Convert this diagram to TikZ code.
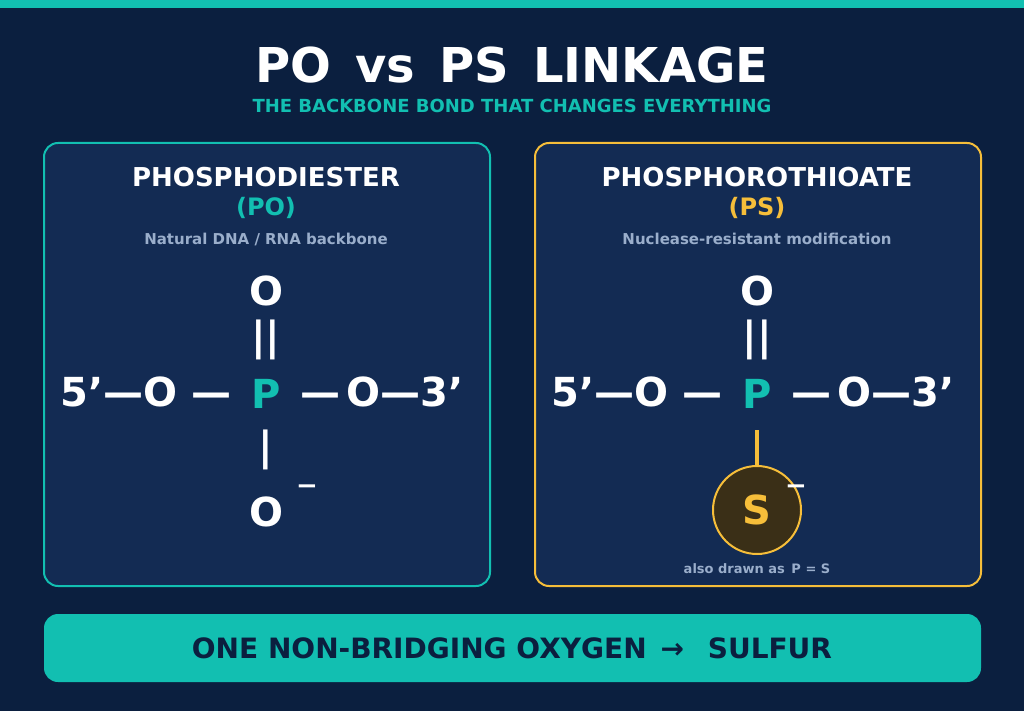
\documentclass[tikz,border=0pt]{standalone}
\usepackage{fontspec}
\setmainfont{DejaVu Sans}
\usetikzlibrary{positioning}
\definecolor{navy}{HTML}{0B1F3F}
\definecolor{panel}{HTML}{132B53}
\definecolor{teal}{HTML}{12BFB1}
\definecolor{gold}{HTML}{F6BE3A}
\definecolor{muted}{HTML}{9AAECB}
\definecolor{sdark}{HTML}{3A2F17}
\tikzset{
  box/.style={rounded corners=14pt, line width=2pt, fill=panel},
  head/.style={text=white, font=\bfseries\fontsize{26}{28}\selectfont},
  tag/.style={font=\bfseries\fontsize{24}{26}\selectfont},
  note/.style={text=muted, font=\bfseries\fontsize{15}{17}\selectfont},
  atom/.style={text=white, font=\bfseries\fontsize{40}{44}\selectfont, inner sep=0pt},
  bond/.style={text=white, font=\bfseries\fontsize{40}{44}\selectfont, inner sep=0pt},
}
\begin{document}
\begin{tikzpicture}[x=1pt,y=-1pt]
  \useasboundingbox (0,0) rectangle (1024,711);
  \fill[navy] (0,0) rectangle (1024,711);
  \fill[teal] (0,0) rectangle (1024,8);
  % title
  \node[text=white, font=\bfseries\fontsize{48}{52}\selectfont] (title) at (512,65) {PO\enspace vs\enspace PS\enspace LINKAGE};
  \node[text=teal, font=\bfseries\fontsize{18}{20}\selectfont] (subtitle) at (512,106) {THE BACKBONE BOND THAT CHANGES EVERYTHING};
  % panels
  \draw[box, draw=teal] (44,143) rectangle (490,586);
  \draw[box, draw=gold] (535,143) rectangle (981,586);
  % left: PO
  \node[head] (hpo) at (266,177) {PHOSPHODIESTER};
  \node[tag, text=teal] (tpo) at (266,208) {(PO)};
  \node[note] (npo) at (266,239) {Natural DNA / RNA backbone};
  \node[atom] (otop) at (266,291) {O};
  \node[bond] (dbl) at (266,340) {||};
  \node[atom, text=teal] (p) at (266,394) {P};
  \node[atom, anchor=east] (left) at (232,392) {5'—O —};
  \node[atom, anchor=west] (right) at (300,392) {—\,O—3'};
  \node[bond] (sgl) at (266,450) {|};
  \node[atom] (obot) at (266,512) {O};
  \node[atom, font=\bfseries\fontsize{26}{28}\selectfont] (minus) at (307,490) {−};
  % right: PS
  \node[head] (hps) at (757,177) {PHOSPHOROTHIOATE};
  \node[tag, text=gold] (tps) at (757,208) {(PS)};
  \node[note] (nps) at (757,239) {Nuclease-resistant modification};
  \node[atom] (otop2) at (757,291) {O};
  \node[bond] (dbl2) at (757,340) {||};
  \node[atom, text=teal] (p2) at (757,394) {P};
  \node[atom, anchor=east] (left2) at (723,392) {5'—O —};
  \node[atom, anchor=west] (right2) at (791,392) {—\,O—3'};
  \node[circle, minimum size=88pt, fill=sdark, draw=gold, line width=2pt,
    text=gold, font=\bfseries\fontsize{40}{44}\selectfont, inner sep=0pt] (s) at (757,510) {S};
  \coordinate (stop) at (757,430);
  \draw[gold, line width=4pt] (stop) -- (s.north);
  \node[atom, font=\bfseries\fontsize{26}{28}\selectfont] (minus2) at (796,490) {−};
  \node[note, font=\bfseries\fontsize{13}{15}\selectfont] (alt) at (757,569) {also drawn as\enspace P = S};
  % bottom banner
  \fill[teal, rounded corners=14pt] (44,614) rectangle (981,682);
  \node[text=navy, font=\bfseries\fontsize{28}{30}\selectfont] (banner) at (512,648) {ONE NON-BRIDGING OXYGEN\enspace → \enspace SULFUR};
\end{tikzpicture}
\end{document}
